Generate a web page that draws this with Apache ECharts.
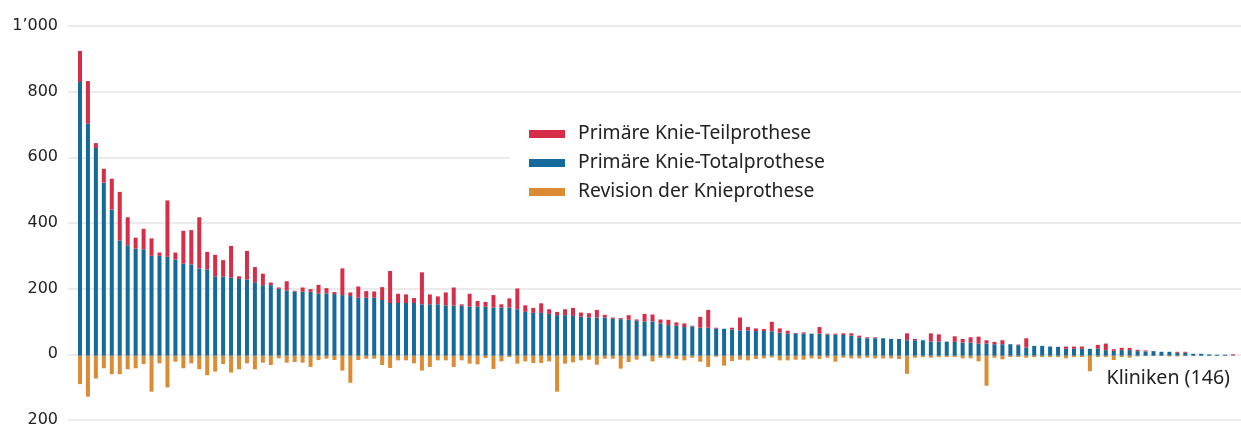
<!DOCTYPE html>
<html>
<head>
<meta charset="utf-8">
<script src="https://cdn.jsdelivr.net/npm/echarts@6/dist/echarts.min.js"></script>
<style>
html,body{margin:0;padding:0;background:#fff;}
#chart{width:1241px;height:428px;}
</style>
</head>
<body>
<div id="chart"></div>
<script>
// Primäre Knie-Totalprothese (blue, bottom of stack)
const totalprothese = [830,704,630,525,443,350,335,325,323,303,303,300,292,279,277,265,262,241,240,237,233,231,223,214,214,203,198,195,194,194,189,189,187,184,181,176,176,176,169,160,160,160,160,156,156,156,153,152,152,149,149,149,146,146,146,141,133,130,130,127,123,123,121,119,116,116,116,112,111,109,106,104,104,98,93,91,87,89,85,85,82,82,80,77,77,75,75,74,70,67,67,67,67,67,64,64,63,61,56,53,53,53,51,51,47,47,47,43,43,43,42,40,40,37,37,35,35,35,32,25,30,30,28,27,21,21,21,21,21,17,15,17,17,14,13,14,12,12,9,9,6,6,4,3,3,1];
// Primäre Knie-Teilprothese (red, on top)
const teilprothese = [94,129,15,42,94,147,85,33,62,53,10,171,21,100,104,155,53,65,50,96,8,87,46,35,8,4,28,2,13,8,26,16,6,81,11,34,20,19,39,97,28,26,15,97,30,24,39,55,4,39,17,14,38,10,28,63,20,15,29,14,10,18,24,12,13,23,8,4,3,14,4,23,21,12,16,10,11,2,33,54,3,0,5,39,10,8,6,29,13,9,2,4,0,20,3,3,5,7,5,3,3,0,0,0,21,4,0,25,22,0,17,11,16,21,10,7,12,0,2,28,0,0,0,0,7,7,7,0,12,20,5,7,7,4,3,0,0,0,3,3,0,0,0,0,0,3];
// Revision der Knieprothese (orange, drawn below zero)
const revision = [86,124,69,38,56,56,41,38,25,109,23,96,18,38,23,41,59,48,25,51,41,23,41,21,28,8,21,19,21,34,13,9,13,45,82,13,9,9,28,37,14,14,23,45,34,14,14,34,14,24,26,7,40,17,4,24,17,22,22,17,109,24,20,14,12,27,9,9,39,19,12,2,17,6,8,10,14,6,18,34,3,30,16,12,14,10,8,5,14,14,12,12,8,10,6,18,6,8,8,6,8,8,8,10,55,6,4,6,4,4,4,8,8,17,91,6,11,4,4,6,4,4,4,4,8,4,4,47,4,4,13,4,6,2,1,1,1,2,2,1,1,0,0,0,0,0];

const seriesNames = ['Primäre Knie-Teilprothese','Primäre Knie-Totalprothese','Revision der Knieprothese'];
const colors = {teil:'#d62e48', total:'#146a9b', rev:'#db8c32'};
const xAxisName = 'Kliniken (146)';
const clinics = totalprothese.map((_, i) => 'Klinik ' + (i + 1));
const revisionNeg = revision.map(v => -v);

const FONT = 'Noto Sans';
const chart = echarts.init(document.getElementById('chart'), null, {renderer:'canvas'});
chart.setOption({
  animation: false,
  backgroundColor: '#ffffff',
  textStyle: {fontFamily: FONT},
  grid: [
    {left: 76, right: 4, top: 26, bottom: 6.3, containLabel: false},
    {left: 68, right: 0, top: 26, bottom: 6.3, containLabel: false}
  ],
  legend: {
    data: seriesNames,
    orient: 'vertical',
    left: 529,
    top: 124,
    padding: 0,
    itemWidth: 36,
    itemHeight: 8,
    itemGap: 9,
    icon: 'rect',
    z: 10,
    textStyle: {fontFamily: FONT, fontSize: 19.3, color: '#222', lineHeight: 20, padding: [0,0,0,8]}
  },
  xAxis: [
    {type: 'category', gridIndex: 0, data: clinics, show: false, boundaryGap: true},
    {type: 'value', gridIndex: 1, min: 0, max: 1, show: false}
  ],
  yAxis: [
    {type: 'value', gridIndex: 0, min: -200, max: 1000, interval: 200, show: false},
    {
      type: 'value', gridIndex: 1, min: -200, max: 1000, interval: 200,
      axisLine: {show: false},
      axisTick: {show: false},
      splitLine: {show: true, lineStyle: {color: '#ebebeb', width: 2}},
      axisLabel: {
        margin: 10,
        fontFamily: 'DejaVu Sans',
        fontSize: 16,
        color: '#222',
        formatter: function (v) {
          const a = Math.abs(v);
          return a >= 1000 ? Math.floor(a/1000) + '\u2019' + String(a % 1000).padStart(3,'0') : String(a);
        }
      }
    }
  ],
  graphic: [
    {type: 'rect', z: 3, shape: {x: 510, y: 120, width: 731, height: 85}, style: {fill: '#ffffff'}},
    {type: 'text', z: 5, x: 1230, y: 378, style: {text: xAxisName, align: 'right', verticalAlign: 'middle', fontFamily: FONT, fontSize: 19.6, fill: '#222'}}
  ],
  series: [
    {name: seriesNames[1], type: 'bar', stack: 'prim', xAxisIndex: 0, yAxisIndex: 0, data: totalprothese, barWidth: 4, itemStyle: {color: colors.total}},
    {name: seriesNames[0], type: 'bar', stack: 'prim', xAxisIndex: 0, yAxisIndex: 0, data: teilprothese, barWidth: 4, itemStyle: {color: colors.teil}},
    {name: seriesNames[2], type: 'bar', xAxisIndex: 0, yAxisIndex: 0, data: revisionNeg, barWidth: 4, barGap: '-100%', itemStyle: {color: colors.rev}}
  ]
});
</script>
</body>
</html>
